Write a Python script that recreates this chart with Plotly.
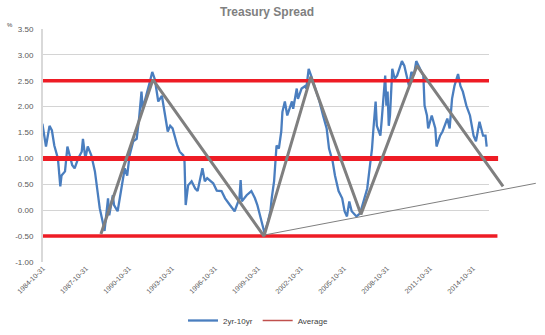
import plotly.graph_objects as go
import pandas as pd

# ---- data ----
spread_dates = [
    "1984-10", "1985-01", "1985-04", "1985-06", "1985-08", "1985-11", "1986-01", "1986-02", "1986-05", "1986-07",
    "1986-11", "1987-01", "1987-04", "1987-07", "1987-08", "1987-10", "1987-12", "1988-03", "1988-06", "1988-08",
    "1988-10", "1989-01", "1989-02", "1989-05", "1989-06", "1989-09", "1989-10", "1990-01", "1990-03", "1990-05",
    "1990-07", "1990-09", "1990-11", "1991-02", "1991-05", "1991-07", "1991-09", "1991-10", "1992-02", "1992-04",
    "1992-06", "1992-08", "1992-09", "1992-11", "1993-02", "1993-05", "1993-07", "1993-09", "1993-11", "1994-03",
    "1994-05", "1994-08", "1994-09", "1994-10", "1994-12", "1995-03", "1995-06", "1995-08", "1995-12", "1996-02",
    "1996-04", "1996-09", "1996-12", "1997-04", "1997-07", "1997-11", "1998-03", "1998-07", "1998-08", "1998-09",
    "1999-01", "1999-05", "1999-08", "1999-10", "1999-12", "2000-02", "2000-04", "2000-07", "2000-09", "2000-10",
    "2000-12", "2001-02", "2001-04", "2001-06", "2001-07", "2001-09", "2001-11", "2002-03", "2002-04", "2002-07",
    "2002-08", "2002-11", "2003-02", "2003-03", "2003-05", "2003-07", "2003-10", "2004-02", "2004-05", "2004-08",
    "2004-10", "2005-01", "2005-03", "2005-06", "2005-09", "2005-11", "2006-01", "2006-03", "2006-05", "2006-09",
    "2006-12", "2007-02", "2007-06", "2007-08", "2007-10", "2007-11", "2008-01", "2008-02", "2008-05", "2008-06",
    "2008-09", "2008-10", "2008-11", "2008-12", "2009-01", "2009-03", "2009-05", "2009-07", "2009-11", "2010-01",
    "2010-03", "2010-05", "2010-07", "2010-09", "2010-11", "2011-02", "2011-05", "2011-06", "2011-08", "2011-09",
    "2011-12", "2012-03", "2012-04", "2012-07", "2012-09", "2013-01", "2013-03", "2013-05", "2013-07", "2013-10",
    "2013-12", "2014-02", "2014-05", "2014-08", "2014-11", "2015-01", "2015-04", "2015-07", "2015-09", "2015-10",
]
spread_values = [
    1.67, 1.23, 1.63, 1.54, 1.25, 1.00, 0.46, 0.67, 0.75, 1.23,
    0.87, 0.81, 1.00, 1.13, 1.38, 1.00, 1.23, 1.06, 0.75, 0.42,
    0.04, -0.28, -0.40, 0.23, -0.10, 0.29, 0.10, -0.02, 0.23, 0.48,
    0.81, 0.67, 1.06, 1.33, 1.38, 1.77, 2.29, 1.96, 2.29, 2.48,
    2.67, 2.54, 2.40, 2.10, 2.21, 1.77, 1.52, 1.63, 1.58, 1.25,
    1.13, 1.06, 0.94, 0.10, 0.48, 0.56, 0.42, 0.37, 0.81, 0.56,
    0.62, 0.52, 0.38, 0.37, 0.23, 0.10, -0.02, 0.23, 0.58, 0.17,
    0.29, 0.37, 0.23, 0.10, -0.10, -0.29, -0.44, -0.21, 0.00, 0.23,
    0.56, 1.25, 1.19, 1.52, 1.90, 2.10, 1.83, 2.10, 1.96, 2.35,
    2.15, 2.35, 2.40, 2.35, 2.73, 2.60, 2.40, 2.10, 1.83, 1.58,
    1.19, 0.94, 0.67, 0.37, 0.23, -0.02, -0.12, 0.17, -0.02, -0.12,
    -0.06, 0.10, 0.42, 0.81, 1.19, 1.52, 2.10, 1.63, 1.44, 1.71,
    2.60, 2.02, 2.29, 1.63, 1.83, 2.73, 2.54, 2.60, 2.88, 2.79,
    2.60, 2.40, 2.67, 2.60, 2.88, 2.73, 2.60, 2.02, 1.83, 1.58,
    1.83, 1.58, 1.23, 1.44, 1.52, 1.77, 1.58, 2.15, 2.40, 2.63,
    2.40, 2.29, 2.02, 1.83, 1.44, 1.33, 1.71, 1.44, 1.44, 1.23,
]
average_value = 1.00

# hand-drawn guide lines on the reference
zigzag_dates = ["1988-11-15", "1992-07-01", "2000-04-01", "2003-07-10", "2007-01-05", "2010-12-05", "2016-12-05"]
zigzag_values = [-0.46, 2.52, -0.50, 2.58, -0.08, 2.79, 0.46]
trend_dates = ["2000-04-01", "2019-03-20"]
trend_values = [-0.48, 0.52]
band_levels = [2.5, 1.0, -0.5]
band_ends = ["2015-12-13", "2016-08-01", "2016-07-15"]
band_widths = [3.5, 5, 3.5]

tick_labels = ["1984-10-31", "1987-10-31", "1990-10-31", "1993-10-31", "1996-10-31",
               "1999-10-31", "2002-10-31", "2005-10-31", "2008-10-31", "2011-10-31", "2014-10-31"]

# ---- layout geometry ----
W, H = 545, 335
ML, MR, MT, MB = 43, 0, 29, 72
plot_w = W - ML - MR
x1_px = 446
D = x1_px / plot_w
r0 = pd.Timestamp("1984-10-31")
r1 = pd.Timestamp("2015-12-13")
r2 = r0 + (r1 - r0) / D

font_fam = "Liberation Sans Narrow, Arial Narrow, Liberation Sans, Arial, sans-serif"

fig = go.Figure()
x_spread = [d + "-15" for d in spread_dates]
fig.add_trace(go.Scatter(x=x_spread, y=spread_values, mode="lines", name="2yr-10yr",
                         line=dict(color="#4a7ebf", width=2.3), xaxis="x", yaxis="y"))
fig.add_trace(go.Scatter(x=[x_spread[0], x_spread[-1]], y=[average_value, average_value], mode="lines",
                         name="Average", line=dict(color="#c0504d", width=1.5), xaxis="x", yaxis="y"))

for lvl, end, w in zip(band_levels, band_ends, band_widths):
    fig.add_trace(go.Scatter(x=[r0, end], y=[lvl, lvl], mode="lines", showlegend=False,
                             line=dict(color="#ee1c25", width=w), xaxis="x2", yaxis="y2",
                             hoverinfo="skip"))
fig.add_trace(go.Scatter(x=zigzag_dates, y=zigzag_values, mode="lines", showlegend=False,
                         line=dict(color="#7f7f7f", width=3), xaxis="x2", yaxis="y2"))
fig.add_trace(go.Scatter(x=trend_dates, y=trend_values, mode="lines", showlegend=False,
                         line=dict(color="#7f7f7f", width=1), xaxis="x2", yaxis="y2"))

fig.update_layout(
    width=W, height=H,
    margin=dict(l=ML, r=MR, t=MT, b=MB),
    paper_bgcolor="white", plot_bgcolor="rgba(0,0,0,0)",
    font=dict(family=font_fam, color="#595959", size=8),
    showlegend=True,
    legend=dict(orientation="h", x=(258 - ML) / plot_w, xanchor="center", y=-(322 - 263) / 234,
                yanchor="middle", font=dict(size=8, color="#404040"), bgcolor="rgba(0,0,0,0)",
                itemwidth=30),
    xaxis=dict(domain=[0, D], range=[r0, r1], type="date", tickvals=tick_labels, ticktext=tick_labels,
               tickangle=-45, tickfont=dict(size=7, color="#595959"), showgrid=False,
               zeroline=False, showline=False, ticks=""),
    yaxis=dict(range=[-1, 3.5], tickvals=[-1, -0.5, 0, 0.5, 1, 1.5, 2, 2.5, 3, 3.5],
               ticktext=["-1.00", "-0.50", "0.00", "0.50", "1.00", "1.50", "2.00", "2.50", "3.00", "3.50"],
               showgrid=True, gridcolor="#d4d4d4", gridwidth=1, zeroline=False,
               showline=True, linecolor="#d9d9d9", linewidth=2, ticks="", ticklabelstandoff=6,
               tickfont=dict(size=8, color="#595959")),
    xaxis2=dict(domain=[0, 1], range=[r0, r2], type="date", visible=False, anchor="y2"),
    yaxis2=dict(range=[-1, 3.5], visible=False, anchor="x2"),
    annotations=[
        dict(text="<b>Treasury Spread</b>", x=(267 - ML) / plot_w, y=1 + (MT - 12) / 234, xref="paper",
             yref="paper", xanchor="center", yanchor="middle", showarrow=False,
             font=dict(size=12, color="#808080", family=font_fam)),
        dict(text="%", x=-(ML - 10) / plot_w, y=1 + (MT - 25) / 234, xref="paper", yref="paper",
             xanchor="center", yanchor="middle", showarrow=False, font=dict(size=6, color="#404040")),
    ],
)

fig.write_html("out.html")
